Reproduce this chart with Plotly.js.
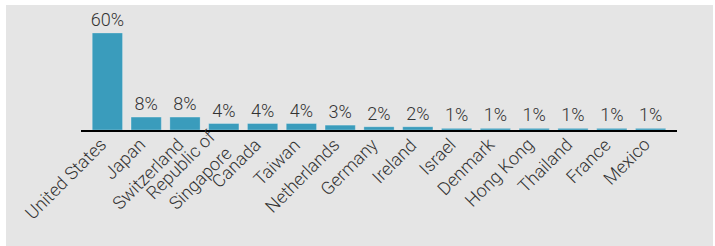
<!DOCTYPE html>
<html>
<head>
<meta charset="utf-8">
<script src="https://cdn.plot.ly/plotly-3.0.1.min.js"></script>
<style>
  html, body { margin: 0; padding: 0; background: #ffffff; }
  #chart { position: absolute; left: 6px; top: 5px; width: 707px; height: 241px; }
</style>
</head>
<body>
<div id="chart"></div>
<script>
const countries = ["United States", "Japan", "Switzerland", "Republic of<br>Singapore", "Canada", "Taiwan",
  "Netherlands", "Germany", "Ireland", "Israel", "Denmark", "Hong Kong", "Thailand", "France", "Mexico"];
const shares = [60, 8, 8, 4, 4, 4, 3, 2, 2, 1, 1, 1, 1, 1, 1];

const labelFont = { family: "Roboto", size: 18, color: "#333333", weight: 300 };

const trace = {
  type: "bar",
  x: countries,
  y: shares,
  text: shares.map(v => v + "%"),
  textposition: "outside",
  cliponaxis: false,
  constraintext: "none",
  textfont: labelFont,
  marker: { color: "#3a9cbc", line: { color: "rgba(255,255,255,0.25)", width: 1 } },
  hoverinfo: "none"
};

// rotated category labels: end of each label's text block centred just below its bar
const lineH = 18 * 1.3;
const annotations = countries.map(c => {
  const n = c.split("<br>").length;
  const H = n * lineH + 2;
  const k = H / (2 * Math.SQRT2);
  return {
    x: c, y: 0, xref: "x", yref: "y",
    text: c, showarrow: false, textangle: -45,
    xanchor: "right", yanchor: "top",
    xshift: -3 + k, yshift: -(10 - k),
    font: labelFont, align: "right"
  };
});

const layout = {
  width: 707,
  height: 241,
  margin: { l: 75, r: 36, t: 28, b: 116, pad: 0 },
  paper_bgcolor: "#e5e5e5",
  plot_bgcolor: "#e5e5e5",
  bargap: 0.22,
  showlegend: false,
  font: { family: "Roboto", color: "#333333" },
  annotations: annotations,
  xaxis: {
    type: "category",
    range: [-0.68, 14.68],
    showline: true,
    linecolor: "#000000",
    linewidth: 2,
    ticks: "",
    showgrid: false,
    zeroline: false,
    showticklabels: false
  },
  yaxis: {
    range: [0, 60],
    visible: false,
    showgrid: false,
    zeroline: false
  }
};

Plotly.newPlot("chart", [trace], layout, { displayModeBar: false, staticPlot: true });
</script>
</body>
</html>
